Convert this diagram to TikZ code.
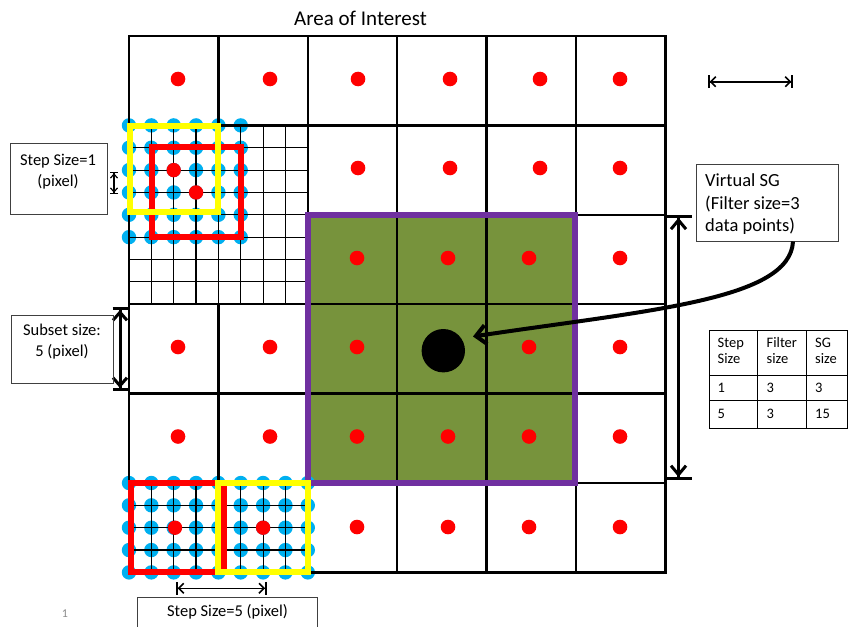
\documentclass[tikz,border=0pt]{standalone}
\usepackage{fontspec}
\setmainfont{Carlito}
\usetikzlibrary{arrows.meta}
\definecolor{dotred}{HTML}{FF0000}
\definecolor{dotblue}{HTML}{00B0F0}
\definecolor{sqyellow}{HTML}{FFFF00}
\definecolor{sqpurple}{HTML}{7030A0}
\definecolor{sggreen}{HTML}{77933C}
\definecolor{boxgray}{HTML}{404040}
\tikzset{
  biggrid/.style={line width=2.5pt, line cap=rect},
  finegrid/.style={line width=1.2pt},
  reddot/.style={fill=dotred},
  bluedot/.style={fill=dotblue},
  sqline/.style={line width=6pt},
  lbox/.style={draw=boxgray, line width=1pt, inner sep=0pt},
  lbl/.style={inner sep=0pt, align=center, font=\fontsize{16.5}{21}\selectfont},
  tbl/.style={inner sep=0pt, align=left, anchor=west, font=\fontsize{14.5}{16}\selectfont},
  dimthin/.style={line width=1.6pt, arrows={Bar[width=13pt]Straight Barb[length=5pt,width=10pt]-Straight Barb[length=5pt,width=10pt]Bar[width=13pt]}},
  dimsmall/.style={line width=1.2pt, arrows={Bar[width=8pt]Straight Barb[length=4pt,width=7pt]-Straight Barb[length=4pt,width=7pt]Bar[width=8pt]}},
  dimthick/.style={line width=3pt, arrows={Bar[width=15pt]Straight Barb[length=8pt,width=14pt]-Straight Barb[length=8pt,width=14pt]Bar[width=15pt]}},
  dimbig/.style={line width=3pt, arrows={Bar[width=26pt]Straight Barb[length=9pt,width=15pt]-Straight Barb[length=9pt,width=15pt]Bar[width=26pt]}},
  curvearr/.style={line width=4pt, -{Straight Barb[length=10pt,width=19pt]}},
}
\begin{document}
\begin{tikzpicture}[x=1pt,y=-1pt]
\useasboundingbox (0,0) rectangle (848,626);
\fill[white] (0,0) rectangle (848,626);
% green window
\fill[sggreen] (308,215) rectangle (575,483);
% blue data points
\foreach \i in {0,...,5}{\foreach \j in {0,...,5}{\fill[bluedot] (129+22.35*\i,125.4+22.35*\j) circle (7.2pt);}}
\foreach \i in {0,...,8}{\foreach \j in {0,...,4}{\fill[bluedot] (129+22.35*\i,483+22.35*\j) circle (7.2pt);}}
% fine grids
\foreach \k in {0,...,8}{
  \draw[finegrid] (129+22.35*\k,125.4) -- (129+22.35*\k,304.2);
  \draw[finegrid] (129,125.4+22.35*\k) -- (307.8,125.4+22.35*\k);
  \draw[finegrid] (129+22.35*\k,483) -- (129+22.35*\k,572.4);
}
\foreach \k in {0,...,4}{\draw[finegrid] (129,483+22.35*\k) -- (307.8,483+22.35*\k);}
% big grid
\foreach \y in {36,125.4,304.2,393.6,483,572.4}{\draw[biggrid] (129,\y) -- (665.4,\y);}
\draw[biggrid] (307.8,214.8) -- (665.4,214.8);
\foreach \x in {129,218.4}{\draw[biggrid] (\x,36) -- (\x,125.4); \draw[biggrid] (\x,304.2) -- (\x,572.4);}
\foreach \x in {307.8,397.2,486.6,576,665.4}{\draw[biggrid] (\x,36) -- (\x,572.4);}
% purple window
\draw[sqpurple, line width=6pt] (308,215) rectangle (575,483);
% red dots in big cells
\foreach \x in {178,270,358,450,540,620}{\fill[reddot] (\x,79) circle (7.3pt);}
\foreach \x in {358,450,540,620}{\fill[reddot] (\x,168) circle (7.3pt);}
\foreach \x in {357,448,529,620}{\fill[reddot] (\x,258) circle (7.3pt);}
\foreach \x in {178,270,357,529,620}{\fill[reddot] (\x,347) circle (7.3pt);}
\foreach \x in {178,270,357,448,529,620}{\fill[reddot] (\x,436.5) circle (7.3pt);}
\foreach \x in {357,448,529,620}{\fill[reddot] (\x,527) circle (7.3pt);}
% detail red dots
\fill[reddot] (173.7,170.1) circle (7.2pt);
\fill[reddot] (196.05,192.45) circle (7.2pt);
\fill[reddot] (175,527.7) circle (7.2pt);
\fill[reddot] (263.1,527.7) circle (7.2pt);
% subset squares
\draw[dotred, sqline] (151.7,146.7) rectangle (240.7,237.3);
\draw[sqyellow, sqline] (129.5,125.7) rectangle (218.3,211.5);
\draw[dotred, sqline] (131,483.3) rectangle (223.5,571.7);
\draw[sqyellow, sqline] (218.3,483.3) rectangle (308,571.7);
% centre point
\node[circle, fill=black, minimum size=43.4pt, inner sep=0pt] (centre) at (443.3,350.7) {};
% title
\node[inner sep=0pt, font=\fontsize{21}{24}\selectfont] (title) at (360.5,18) {Area of Interest};
% dimension arrows
\coordinate (tra) at (708,81.7); \coordinate (trb) at (793,81.7);
\draw[dimthin] (tra) -- (trb);
\coordinate (soa) at (114,172); \coordinate (sob) at (114,194);
\draw[dimsmall] (soa) -- (sob);
\coordinate (sba) at (120,307); \coordinate (sbb) at (120,391);
\draw[dimthick] (sba) -- (sbb);
\coordinate (rba) at (678.5,214.8); \coordinate (rbb) at (678.5,480);
\draw[dimbig] (rba) -- (rbb);
\coordinate (bfa) at (176,588.3); \coordinate (bfb) at (266.7,588.3);
\draw[dimthin] (bfa) -- (bfb);
% label boxes
\node[lbox, minimum width=97pt, minimum height=71pt] (stepone) at (58.5,178.5) {};
\node[lbl] (steponetxt) at (58,171.2) {Step Size=1\\(pixel)};
\node[lbox, minimum width=102pt, minimum height=68pt] (subset) at (62,349) {};
\node[lbl] (subsettxt) at (62,342) {Subset size:\\5 (pixel)};
\node[lbox, minimum width=180pt, minimum height=40pt, anchor=north] (stepfive) at (227.3,597.3) {};
\node[lbl] (stepfivetxt) at (227.5,611.7) {Step Size=5 (pixel)};
\node[lbox, minimum width=142pt, minimum height=77pt] (vsg) at (767,202.5) {};
\node[inner sep=0pt, anchor=west, align=left, font=\fontsize{18.5}{22.5}\selectfont] (vsgtxt) at (705,204.5) {Virtual SG\\(Filter size=3\\data points)};
% curved arrow
\coordinate (tip) at (473,336.5);
\draw[curvearr] ([xshift=26pt]vsg.south) .. controls (790,300) and (650,310) .. (tip);
% table
\draw[line width=1pt] (709.3,330) rectangle (847,428);
\draw[line width=1pt] (709.3,375) -- (847,375) (709.3,400) -- (847,400) (757.3,330) -- (757.3,428) (806,330) -- (806,428);
\node[tbl] (h1) at (717.5,350.5) {Step\\Size};
\node[tbl] (h2) at (766.5,350.5) {Filter\\size};
\node[tbl] (h3) at (815,350.5) {SG\\size};
\node[tbl] (a1) at (717.5,387.5) {1};
\node[tbl] (a2) at (766.5,387.5) {3};
\node[tbl] (a3) at (815,387.5) {3};
\node[tbl] (b1) at (717.5,414) {5};
\node[tbl] (b2) at (766.5,414) {3};
\node[tbl] (b3) at (815,414) {15};
% slide number
\node[inner sep=0pt, text=black!45, font=\fontsize{12}{14}\selectfont] (slideno) at (65,614) {1};
\end{tikzpicture}
\end{document}
